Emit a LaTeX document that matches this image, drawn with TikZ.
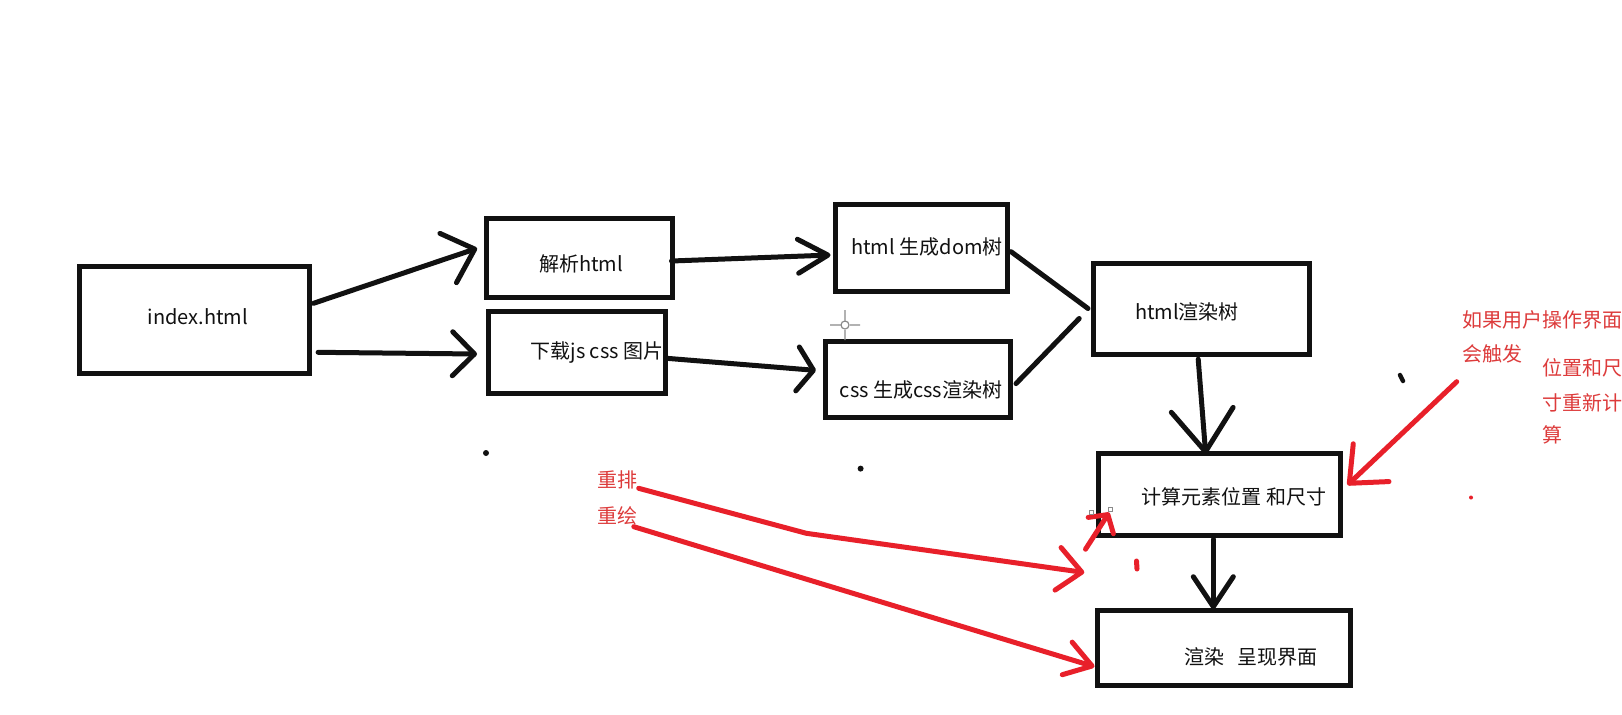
\documentclass[tikz,border=0pt]{standalone}
\usepackage{fontspec}
\setmainfont{Noto Sans CJK SC}
\usepackage{xcolor}
\usepackage{tikz}
\usetikzlibrary{arrows.meta}
\definecolor{cInk}{HTML}{111111}
\definecolor{cPen}{HTML}{E8202A}
\definecolor{cNote}{HTML}{DD3B3B}
\definecolor{cCursor}{HTML}{8A8A8A}
\tikzset{
  box/.style  ={draw=cInk, line width=2.5pt, inner sep=0pt},
  txt/.style  ={text=cInk, inner sep=0pt, font=\fontsize{10}{12}\selectfont},
  note/.style ={text=cNote, inner sep=0pt, anchor=west, font=\fontsize{10}{12}\selectfont},
  ink/.style  ={draw=cInk, line width=2.5pt, line cap=round, line join=round},
  pen/.style  ={draw=cPen, line width=2.5pt, line cap=round, line join=round},
  barb/.style 2 args={-{Straight Barb[length=#1, width=#2, round]}},
}
\begin{document}
\begin{tikzpicture}[x=0.5pt, y=-0.5pt]
  \useasboundingbox[fill=white] (0,0) rectangle (1622,714);
  % boxes
  \node[box, minimum width=115pt, minimum height=53.5pt] (idx) at (194,319.5){};
  \node[box, minimum width=93pt, minimum height=39.5pt] (prs) at (579,257.5){};
  \node[box, minimum width=88.5pt, minimum height=41pt] (dl) at (577,352){};
  \node[box, minimum width=86pt, minimum height=43.5pt] (dom) at (921,248){};
  \node[box, minimum width=92.5pt, minimum height=38pt] (css) at (918,379){};
  \node[box, minimum width=108pt, minimum height=45.5pt] (rt) at (1201.5,308.5){};
  \node[box, minimum width=121pt, minimum height=41pt] (calc) at (1219,494){};
  \node[box, minimum width=126.5pt, minimum height=37.5pt] (rnd) at (1223.5,647.5){};
  \node[txt] (idxL) at (198,317){index.html};
  \node[txt] (prsL) at (581,264){解析html};
  \node[txt] (dlL) at (597,352){下载js css 图片};
  \node[txt] (domL) at (927,247){html 生成dom树};
  \node[txt] (cssL) at (921,390){css 生成css渲染树};
  \node[txt] (rtL) at (1187,312){html渲染树};
  \node[txt] (calcL) at (1234,497){计算元素位置 和尺寸};
  \node[txt] (rndL) at (1251,657){渲染\hspace{6.5pt}呈现界面};
  % black flow
  \draw[ink, barb={14pt}{26pt}] ([xshift=1pt, yshift=8.1pt]idx.east) -- ([xshift=-3.2pt, yshift=4.6pt]prs.west);
  \draw[ink, barb={11pt}{22pt}] ([xshift=3.3pt, yshift=-16.4pt]idx.east) -- ([xshift=-4.5pt, yshift=-1pt]dl.west);
  \draw[ink, barb={15pt}{17pt}] ([xshift=-1.5pt, yshift=-1.75pt]prs.east) -- ([xshift=-1pt, yshift=-3.5pt]dom.west);
  \draw[ink, barb={8pt}{22pt}] ([yshift=-3.2pt]dl.east) -- ([xshift=-3.5pt, yshift=4.3pt]css.west);
  \draw[ink] ([xshift=0.8pt, yshift=-1.85pt]dom.east) -- ([xshift=-1.5pt]rt.west);
  \draw[ink] ([xshift=1.5pt, yshift=-2.3pt]css.east) -- ([xshift=-5.9pt, yshift=-5pt]rt.west);
  \draw[ink, barb={21pt}{31pt}] ([xshift=-1.65pt, yshift=-1.35pt]rt.south) -- ([xshift=-6.65pt, yshift=-1.85pt]calc.north);
  \draw[ink, barb={15pt}{20pt}] ([xshift=-2.85pt, yshift=-0.85pt]calc.south) -- ([xshift=-5.1pt, yshift=-0.85pt]rnd.north);
  % red notes
  \node[note] (rp) at (597.5,480){重排};
  \node[note] (rh) at (597.5,516){重绘};
  \node[note] (ta) at (1462,320){如果用户操作界面};
  \node[note] (tb) at (1462,354){会触发};
  \node[note] (tc1) at (1542,368){位置和尺};
  \node[note] (tc2) at (1542,403){寸重新计};
  \node[note] (tc3) at (1542,435){算};
  \coordinate (kink) at (806.4,533.3);
  \draw[pen, barb={12pt}{21.5pt}] ([xshift=0.2pt, yshift=-4.15pt]rp.east) -- (kink) -- ([xshift=-5.6pt, yshift=-17.5pt]calc.south west);
  \draw[pen, barb={6.5pt}{15pt}] ([xshift=-5pt, yshift=-5.85pt]calc.south west) -- ([xshift=6.85pt, yshift=12.5pt]calc.south west);
  \draw[pen, barb={13pt}{17pt}] ([xshift=-2.25pt, yshift=-5.35pt]rh.east) -- ([yshift=-9.6pt]rnd.west);
  \draw[pen, barb={15pt}{26pt}] ([xshift=-2.65pt, yshift=-13.85pt]tb.west) -- ([xshift=2.5pt, yshift=4.5pt]calc.east);
  % stray marks
  \fill[cInk] (486,453) circle (1.5pt);
  \fill[cInk] (860.6,468.6) circle (1.5pt);
  \draw[ink, line width=2.2pt] (1400,375) -- (1403,381);
  \draw[pen] (1136.5,561) -- (1137,569);
  \fill[cPen] (1471,497.5) circle (1pt);
  \draw[cCursor, line width=0.6pt] (845,325) circle (4) (830,325) -- (840,325) (850,325) -- (860,325)
    (845,310) -- (845,320) (845,330) -- (845,340);
  \draw[cCursor, fill=white, line width=0.4pt] (1089.7,510.3) rectangle (1093.7,514.3) (1108.7,507) rectangle (1112.7,511);
\end{tikzpicture}
\end{document}
